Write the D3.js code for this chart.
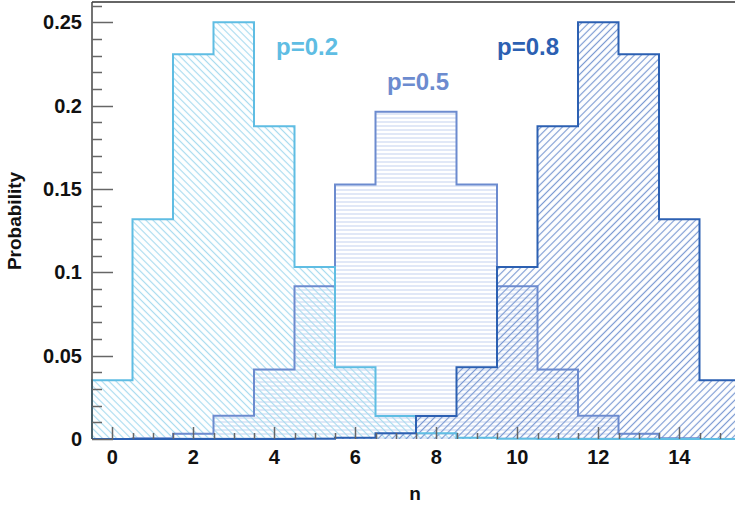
<!DOCTYPE html>
<html>
<head>
<meta charset="utf-8">
<script src="https://cdn.jsdelivr.net/npm/d3@7"></script>
<style>
body { margin: 0; background: #fff; }
svg { display: block; font-family: "Liberation Sans", Arial, sans-serif; }
</style>
</head>
<body>
<svg id="chart" width="735" height="507"></svg>
<script>
// values (n = 0 .. 15)
var nValues = d3.range(0, 16);
var probP02 = [0.0352, 0.1319, 0.2309, 0.2501, 0.1876, 0.1032, 0.0430, 0.0138, 0.0035, 0.0007, 0.0001, 0, 0, 0, 0, 0];
var probP05 = [0.0000, 0.0005, 0.0032, 0.0139, 0.0417, 0.0916, 0.1527, 0.1964, 0.1964, 0.1527, 0.0916, 0.0417, 0.0139, 0.0032, 0.0005, 0.0000];
var probP08 = [0, 0, 0, 0, 0, 0.0001, 0.0007, 0.0035, 0.0138, 0.0430, 0.1032, 0.1876, 0.2501, 0.2309, 0.1319, 0.0352];
var seriesNames = ["p=0.5", "p=0.2", "p=0.8"];
var xTicks = [0, 2, 4, 6, 8, 10, 12, 14];
var yTicks = [0, 0.05, 0.1, 0.15, 0.2, 0.25];

var svg = d3.select("#chart");
var margin = {top: 2, left: 92, bottom: 68};
var x = d3.scaleLinear().domain([-0.5, 15.5]).range([margin.left, margin.left + 648]);
var y = d3.scaleLinear().domain([0, 0.2622]).range([439, margin.top]);

var defs = svg.append("defs");
function hatch(id, size, angle, color, width) {
    var p = defs.append("pattern").attr("id", id)
        .attr("patternUnits", "userSpaceOnUse")
        .attr("width", size).attr("height", size)
        .attr("patternTransform", "rotate(" + angle + ")");
    p.append("line").attr("x1", 0).attr("y1", size / 2).attr("x2", size).attr("y2", size / 2)
        .attr("stroke", color).attr("stroke-width", width);
}
hatch("h02", 5, 45, "#a9dbef", 1.2);
hatch("h05", 4, 0, "#c9d5f0", 1.1);
hatch("h08", 5, -45, "#7d9bd3", 1.2);

var series = {
    "p=0.2": {vals: probP02, fill: "url(#h02)", stroke: "#5fbde3"},
    "p=0.5": {vals: probP05, fill: "url(#h05)", stroke: "#6c8bcf"},
    "p=0.8": {vals: probP08, fill: "url(#h08)", stroke: "#2c60b2"}
};

var stepArea = d3.area().curve(d3.curveStepAfter).x(function (d) { return x(d[0]); })
    .y0(y(0)).y1(function (d) { return y(d[1]); });
var stepLine = d3.line().curve(d3.curveStepAfter).x(function (d) { return x(d[0]); })
    .y(function (d) { return y(d[1]); });

function stepPoints(vals) {
    var pts = nValues.map(function (n, i) { return [n - 0.5, vals[i]]; });
    pts.push([15.5, vals[vals.length - 1]]);
    return pts;
}

seriesNames.forEach(function (name) {
    var s = series[name];
    var pts = stepPoints(s.vals);
    svg.append("path").attr("d", stepArea(pts)).attr("fill", s.fill);
});
seriesNames.forEach(function (name) {
    var s = series[name];
    var pts = stepPoints(s.vals);
    var full = [[-0.5, 0]].concat(pts).concat([[15.5, 0]]);
    svg.append("path").attr("d", stepLine(full)).attr("fill", "none")
        .attr("stroke", s.stroke).attr("stroke-width", 2);
});

// axes frame
svg.append("line").attr("x1", margin.left).attr("x2", 735).attr("y1", 2).attr("y2", 2)
    .attr("stroke", "#333").attr("stroke-width", 1.5);
svg.append("line").attr("x1", margin.left).attr("x2", margin.left).attr("y1", 2).attr("y2", 439)
    .attr("stroke", "#444").attr("stroke-width", 1.5);

// y ticks
var yMinor = d3.range(0, 0.2601, 0.01);
svg.append("g").selectAll("line").data(yMinor).enter().append("line")
    .attr("x1", margin.left).attr("y1", function (d) { return Math.round(y(d)) + 0.5; })
    .attr("x2", function (d, i) { return margin.left + (i % 5 == 0 ? 21 : 10); })
    .attr("y2", function (d) { return Math.round(y(d)) + 0.5; })
    .attr("stroke", "#666").attr("stroke-width", 1.5);
svg.append("g").selectAll("text").data(yTicks).enter().append("text")
    .attr("x", 82).attr("y", function (d) { return y(d) + 7; })
    .attr("text-anchor", "end").attr("font-size", 20).attr("font-weight", "bold").attr("fill", "#111")
    .text(function (d) { return d3.format("")(+d.toFixed(2)); });

// x ticks
var xMinor = d3.range(0, 15.51, 0.5);
svg.append("g").selectAll("line").data(xMinor).enter().append("line")
    .attr("x1", function (d) { return Math.round(x(d)) + 0.5; })
    .attr("x2", function (d) { return Math.round(x(d)) + 0.5; })
    .attr("y1", 439)
    .attr("y2", function (d) { return d % 2 == 0 ? 427 : 433; })
    .attr("stroke", "#666").attr("stroke-width", 1.5);
svg.append("g").selectAll("text").data(xTicks).enter().append("text")
    .attr("x", function (d) { return x(d); }).attr("y", 464)
    .attr("text-anchor", "middle").attr("font-size", 20).attr("font-weight", "bold").attr("fill", "#111")
    .text(function (d) { return d; });

// axis titles
svg.append("text").attr("x", 415).attr("y", 500).attr("text-anchor", "middle")
    .attr("font-size", 19).attr("font-weight", "bold").attr("fill", "#111").text("n");
svg.append("text").attr("transform", "translate(21,221) rotate(-90)").attr("text-anchor", "middle")
    .attr("font-size", 19).attr("font-weight", "bold").attr("fill", "#111").text("Probability");

// series labels
var labelPos = {"p=0.2": [276, 55], "p=0.5": [387, 90], "p=0.8": [497, 55]};
seriesNames.forEach(function (name) {
    svg.append("text").attr("x", labelPos[name][0]).attr("y", labelPos[name][1])
        .attr("font-size", 24).attr("font-weight", "bold").attr("fill", series[name].stroke)
        .text(name);
});
</script>
</body>
</html>
